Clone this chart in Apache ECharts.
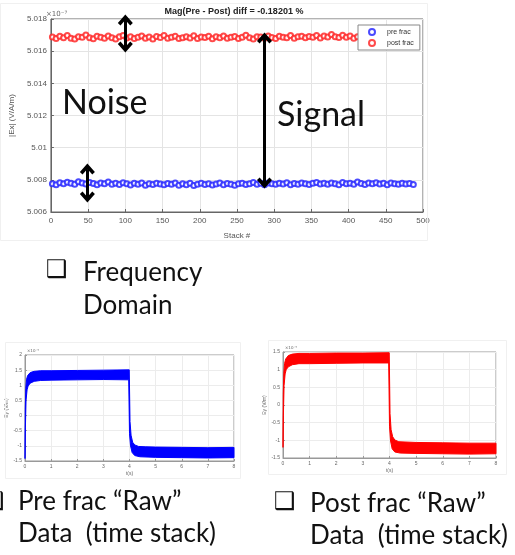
<!DOCTYPE html>
<html>
<head>
<meta charset="utf-8">
<script src="https://cdn.jsdelivr.net/npm/echarts/dist/echarts.min.js"></script>
<style>
  html, body { margin: 0; padding: 0; background: #fff; }
  #chart { width: 515px; height: 555px; }
</style>
</head>
<body>
<div id="chart"></div>
<script>
// top chart: |Ex| per stack (x1e-7), one value read every 5 stacks
const stackStart = 2;
const stackStep = 5;
const postFracMag = [
    5.01688, 5.01679, 5.01693, 5.01684, 5.01697, 5.01681, 5.01675, 5.01690, 5.01686, 5.01700,
    5.01683, 5.01677, 5.01692, 5.01687, 5.01680, 5.01695, 5.01684, 5.01676, 5.01689, 5.01698,
    5.01682, 5.01690, 5.01678, 5.01686, 5.01694, 5.01681, 5.01688, 5.01675, 5.01691, 5.01685,
    5.01697, 5.01680, 5.01687, 5.01693, 5.01678, 5.01684, 5.01690, 5.01682, 5.01696, 5.01679,
    5.01688, 5.01685, 5.01692, 5.01677, 5.01689, 5.01683, 5.01695, 5.01680, 5.01687, 5.01691,
    5.01678, 5.01686, 5.01699, 5.01684, 5.01676, 5.01690, 5.01688, 5.01681, 5.01694, 5.01685,
    5.01679, 5.01692, 5.01687, 5.01683, 5.01697, 5.01680, 5.01689, 5.01693, 5.01684, 5.01691,
    5.01686, 5.01698, 5.01682, 5.01695, 5.01688, 5.01703, 5.01690, 5.01685, 5.01699, 5.01687,
    5.01694, 5.01681, 5.01690
];
const preFracMag = [
    5.00776, 5.00770, 5.00782, 5.00775, 5.00785, 5.00779, 5.00772, 5.00788, 5.00780, 5.00774,
    5.00783, 5.00777, 5.00769, 5.00781, 5.00776, 5.00786, 5.00773, 5.00779, 5.00771, 5.00782,
    5.00775, 5.00768, 5.00778, 5.00773, 5.00781, 5.00766, 5.00776, 5.00771, 5.00779, 5.00774,
    5.00769, 5.00777, 5.00772, 5.00780, 5.00767, 5.00775, 5.00770, 5.00778, 5.00765, 5.00773,
    5.00779, 5.00771, 5.00776, 5.00768, 5.00774, 5.00781, 5.00770, 5.00777, 5.00772, 5.00767,
    5.00775, 5.00779, 5.00771, 5.00776, 5.00783, 5.00773, 5.00778, 5.00770, 5.00780, 5.00775,
    5.00772, 5.00779, 5.00774, 5.00782, 5.00769, 5.00777, 5.00773, 5.00780, 5.00776, 5.00771,
    5.00778, 5.00784, 5.00774, 5.00779, 5.00772, 5.00781, 5.00776, 5.00770, 5.00783, 5.00775,
    5.00779, 5.00773, 5.00786, 5.00777, 5.00771, 5.00780, 5.00775, 5.00782, 5.00774, 5.00778,
    5.00770, 5.00781, 5.00776, 5.00772, 5.00779, 5.00774, 5.00777, 5.00771
];

// annotation arrows [stack, from, to]
const noisePostArrow = [100, 5.01794, 5.01626];
const noisePreArrow = [49, 5.00867, 5.00693];
const signalArrow = [287, 5.01682, 5.00780];

// raw time stacks (x1e-5): envelope of the oscillating trace, [t, Ey]
const preUpper = [[0, -1.42], [0.01, 0.2], [0.03, 0.9], [0.06, 1.2], [0.1, 1.32], [0.2, 1.42], [0.35, 1.46],
    [0.6, 1.48], [1, 1.48], [2, 1.49], [3, 1.5], [3.99, 1.51], [4.02, -0.2], [4.06, -0.65], [4.12, -0.88],
    [4.2, -0.97], [4.35, -1.02], [4.6, -1.03], [5, -1.04], [6, -1.05], [7, -1.06], [8, -1.05]];
const preLower = [[0, -1.42], [0.015, -0.4], [0.04, 0.5], [0.08, 0.85], [0.12, 0.98], [0.2, 1.07], [0.35, 1.13],
    [0.6, 1.16], [1, 1.17], [2, 1.18], [3, 1.19], [3.97, 1.18], [4.0, -0.6], [4.04, -1.0], [4.1, -1.22],
    [4.2, -1.32], [4.4, -1.36], [5, -1.38], [6, -1.39], [7, -1.4], [8, -1.39]];
const postUpper = [[0, -1.2], [0.01, 0.3], [0.03, 0.9], [0.06, 1.18], [0.1, 1.3], [0.2, 1.4], [0.35, 1.44],
    [0.6, 1.46], [1, 1.46], [2, 1.47], [3, 1.47], [3.99, 1.48], [4.02, -0.25], [4.06, -0.7], [4.12, -0.9],
    [4.2, -0.99], [4.35, -1.04], [5, -1.06], [6, -1.07], [7, -1.08], [8, -1.08]];
const postLower = [[0, -1.2], [0.015, -0.3], [0.04, 0.55], [0.08, 0.88], [0.12, 1.0], [0.2, 1.08], [0.35, 1.14],
    [0.6, 1.17], [1, 1.17], [2, 1.18], [3, 1.19], [3.97, 1.19], [4.0, -0.6], [4.04, -1.02], [4.1, -1.24],
    [4.2, -1.33], [4.4, -1.36], [5, -1.37], [6, -1.38], [7, -1.39], [8, -1.38]];

const ARROW = 'path://M10,0 L20,10 L16.5,13 L10,6.5 L3.5,13 L0,10 Z';
const TXT = 'Lato, "Liberation Sans", sans-serif';

function stackData(values) {
    return values.map((v, i) => [stackStart + i * stackStep, v]);
}

function arrowLine(a) {
    return [{ coord: [a[0], a[1]] }, { coord: [a[0], a[2]] }];
}

function bandSeries(idx, upper, lower, color) {
    return {
        type: 'custom',
        xAxisIndex: idx,
        yAxisIndex: idx,
        data: [[0, 0]],
        renderItem: function(params, api) {
            const pts = upper.concat(lower.slice().reverse()).map(p => api.coord(p));
            return { type: 'polygon', shape: { points: pts }, style: { fill: color, stroke: color, lineWidth: 1 } };
        }
    };
}

function smallX(idx) {
    return {
        gridIndex: idx, type: 'value', min: 0, max: 8, interval: 1,
        name: 't(s)', nameLocation: 'middle', nameGap: 10,
        nameTextStyle: { fontSize: 5, color: '#666', fontFamily: 'Liberation Sans' },
        axisLine: { onZero: false, lineStyle: { color: '#999' } },
        axisTick: { inside: true, length: 2, lineStyle: { color: '#999' } },
        axisLabel: { fontSize: 5, color: '#666', margin: 3, fontFamily: 'Liberation Sans' },
        splitLine: { show: true, lineStyle: { color: '#ececec' } }
    };
}

function smallY(idx, min, max) {
    return {
        gridIndex: idx, type: 'value', min: min, max: max, interval: 0.5,
        name: 'Ey (V/m)', nameLocation: 'middle', nameGap: 13,
        nameTextStyle: { fontSize: 5, color: '#666', fontFamily: 'Liberation Sans' },
        axisLine: { show: true, onZero: false, lineStyle: { color: '#999' } },
        axisTick: { inside: true, length: 2, lineStyle: { color: '#999' } },
        axisLabel: { fontSize: 5, color: '#666', margin: 3, fontFamily: 'Liberation Sans' },
        splitLine: { show: true, lineStyle: { color: '#ececec' } }
    };
}

const chart = echarts.init(document.getElementById('chart'));

const option = {
    animation: false,
    backgroundColor: '#fff',
    grid: [
        { left: 45, top: 19, width: 378, height: 193, show: true, borderColor: '#666', borderWidth: 1 },
        { left: 25, top: 355, width: 209, height: 106, show: true, borderColor: '#999', borderWidth: 1 },
        { left: 283, top: 352, width: 213, height: 106, show: true, borderColor: '#999', borderWidth: 1 }
    ],
    legend: {
        data: ['pre frac', 'post frac'],
        left: 358, top: 25, orient: 'vertical',
        itemWidth: 8, itemHeight: 6, itemGap: 3,
        padding: [3, 6, 3, 10],
        borderColor: '#888', borderWidth: 1, backgroundColor: '#fff',
        textStyle: { fontSize: 7, color: '#333', fontFamily: 'Liberation Sans', padding: [0, 0, 0, 6] }
    },
    xAxis: [
        {
            gridIndex: 0, type: 'value', min: 0, max: 500, interval: 50,
            name: 'Stack #', nameLocation: 'middle', nameGap: 20,
            nameTextStyle: { fontSize: 8, color: '#555', fontFamily: 'Liberation Sans' },
            axisLine: { onZero: false, lineStyle: { color: '#666' } },
            axisTick: { inside: true, length: 3, lineStyle: { color: '#666' } },
            axisLabel: { fontSize: 8, color: '#555', margin: 5, fontFamily: 'Liberation Sans' },
            splitLine: { show: true, lineStyle: { color: '#e4e4e4' } }
        },
        smallX(1),
        smallX(2)
    ],
    yAxis: [
        {
            gridIndex: 0, type: 'value', min: 5.006, max: 5.018, interval: 0.002,
            name: '|Ex| (V/A/m)', nameLocation: 'middle', nameGap: 33,
            nameTextStyle: { fontSize: 8, color: '#555', fontFamily: 'Liberation Sans' },
            axisLine: { show: true, lineStyle: { color: '#666' } },
            axisTick: { inside: true, length: 3, lineStyle: { color: '#666' } },
            axisLabel: { fontSize: 8, color: '#555', margin: 4, fontFamily: 'Liberation Sans' },
            splitLine: { show: true, lineStyle: { color: '#e4e4e4' } }
        },
        smallY(1, -1.5, 2),
        smallY(2, -1.5, 1.5)
    ],
    series: [
        {
            name: 'pre frac', type: 'scatter', xAxisIndex: 0, yAxisIndex: 0,
            symbol: 'emptyCircle', symbolSize: 5,
            itemStyle: { color: '#2a2aff', borderWidth: 0.6, opacity: 0.85 },
            data: stackData(preFracMag),
            clip: false,
            markLine: {
                silent: true,
                symbol: [ARROW, ARROW],
                symbolSize: [15, 11],
                label: { show: false },
                lineStyle: { color: '#000', width: 3, type: 'solid', opacity: 1 },
                data: [arrowLine(noisePostArrow), arrowLine(noisePreArrow), arrowLine(signalArrow)]
            }
        },
        {
            name: 'post frac', type: 'scatter', xAxisIndex: 0, yAxisIndex: 0,
            symbol: 'emptyCircle', symbolSize: 5,
            itemStyle: { color: '#ff2a2a', borderWidth: 0.6, opacity: 0.85 },
            data: stackData(postFracMag)
        },
        bandSeries(1, preUpper, preLower, '#0000ff'),
        bandSeries(2, postUpper, postLower, '#ff0000')
    ],
    graphic: {
        elements: [
            { type: 'rect', z: 100, shape: { x: 0.5, y: 3.5, width: 427, height: 237 }, style: { fill: null, stroke: '#f0f0f0' }, silent: true },
            { type: 'rect', z: 100, shape: { x: 5.5, y: 342.5, width: 235, height: 136 }, style: { fill: null, stroke: '#f0f0f0' }, silent: true },
            { type: 'rect', z: 100, shape: { x: 268.5, y: 340.5, width: 238, height: 134 }, style: { fill: null, stroke: '#f0f0f0' }, silent: true },
            { type: 'text', z: 100, x: 234, y: 12, style: { text: 'Mag(Pre - Post) diff = -0.18201 %', fontSize: 9, fontWeight: 'bold', fill: '#222', fontFamily: 'Liberation Sans', textAlign: 'center', textVerticalAlign: 'middle' } },
            { type: 'text', z: 100, x: 46, y: 14, style: { text: '×10⁻⁷', fontSize: 7, fill: '#666', fontFamily: 'DejaVu Sans', textVerticalAlign: 'middle' } },
            { type: 'text', z: 100, x: 27, y: 351, style: { text: '×10⁻⁵', fontSize: 4, fill: '#666', fontFamily: 'DejaVu Sans', textVerticalAlign: 'middle' } },
            { type: 'text', z: 100, x: 285, y: 348, style: { text: '×10⁻⁵', fontSize: 4, fill: '#666', fontFamily: 'DejaVu Sans', textVerticalAlign: 'middle' } },
            { type: 'text', z: 100, x: 62, y: 103, style: { text: 'Noise', fontSize: 34, fill: '#111', fontFamily: TXT, textVerticalAlign: 'middle' } },
            { type: 'text', z: 100, x: 277, y: 115, style: { text: 'Signal', fontSize: 34, fill: '#111', fontFamily: TXT, textVerticalAlign: 'middle' } },
            { type: 'text', z: 100, x: 46, y: 271, style: { text: '❑', fontSize: 24, fontWeight: 'bold', fill: '#111', fontFamily: 'DejaVu Sans', textVerticalAlign: 'middle' } },
            { type: 'text', z: 100, x: 83, y: 273, style: { text: 'Frequency', fontSize: 26, fill: '#111', fontFamily: TXT, textVerticalAlign: 'middle' } },
            { type: 'text', z: 100, x: 83, y: 306, style: { text: 'Domain', fontSize: 26, fill: '#111', fontFamily: TXT, textVerticalAlign: 'middle' } },
            { type: 'text', z: 100, x: -17, y: 503, style: { text: '❑', fontSize: 24, fontWeight: 'bold', fill: '#111', fontFamily: 'DejaVu Sans', textVerticalAlign: 'middle' } },
            { type: 'text', z: 100, x: 18, y: 502, style: { text: 'Pre frac “Raw”', fontSize: 26, fill: '#111', fontFamily: TXT, textVerticalAlign: 'middle' } },
            { type: 'text', z: 100, x: 18, y: 534, style: { text: 'Data  (time stack)', fontSize: 26, fill: '#111', fontFamily: TXT, textVerticalAlign: 'middle' } },
            { type: 'text', z: 100, x: 274, y: 503, style: { text: '❑', fontSize: 24, fontWeight: 'bold', fill: '#111', fontFamily: 'DejaVu Sans', textVerticalAlign: 'middle' } },
            { type: 'text', z: 100, x: 310, y: 504, style: { text: 'Post frac “Raw”', fontSize: 26, fill: '#111', fontFamily: TXT, textVerticalAlign: 'middle' } },
            { type: 'text', z: 100, x: 310, y: 536, style: { text: 'Data  (time stack)', fontSize: 26, fill: '#111', fontFamily: TXT, textVerticalAlign: 'middle' } }
        ]
    }
};

chart.setOption(option);
</script>
</body>
</html>
